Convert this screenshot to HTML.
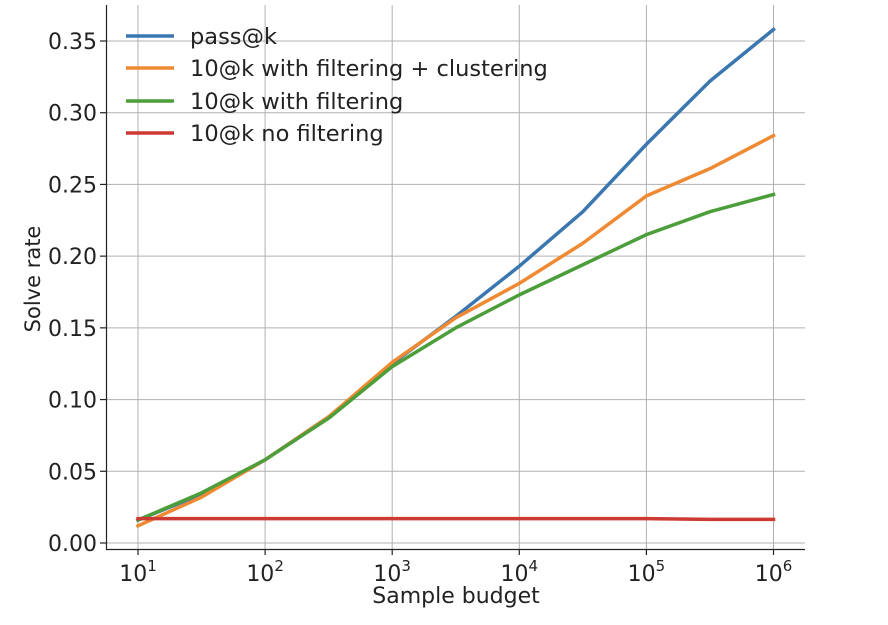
<!DOCTYPE html>
<html><head><meta charset="utf-8"><style>
body{margin:0;background:#fff;}
svg text{font-family:"DejaVu Sans","Liberation Sans",sans-serif;fill:#222;}
</style></head><body>
<svg id="s" width="888" height="620" viewBox="0 0 888 620" xmlns="http://www.w3.org/2000/svg">
<g id="grid" stroke="#b0b0b0" stroke-width="1"></g>
<g id="lines" fill="none" stroke-width="3.5" stroke-linejoin="round" stroke-linecap="square"></g>
<line x1="106.5" y1="5" x2="106.5" y2="550" stroke="#222" stroke-width="1.2"/>
<line x1="106" y1="549.5" x2="805" y2="549.5" stroke="#222" stroke-width="1.2"/>
<g id="ticks" stroke="#222" stroke-width="1.2"></g>
<g id="labels" font-size="22"></g>
<text x="456" y="603" font-size="22" text-anchor="middle">Sample budget</text>
<text transform="translate(40,279) rotate(-90)" font-size="21" text-anchor="middle">Solve rate</text>
<g font-size="22.5">
<line x1="126" y1="36" x2="174" y2="36" stroke="#3a76b0" stroke-width="3.5"/><text x="190" y="44">pass@k</text>
<line x1="126" y1="68" x2="174" y2="68" stroke="#f08a32" stroke-width="3.5"/><text x="190" y="76">10@k with filtering + clustering</text>
<line x1="126" y1="101" x2="174" y2="101" stroke="#4c9e3a" stroke-width="3.5"/><text x="190" y="109">10@k with filtering</text>
<line x1="126" y1="133" x2="174" y2="133" stroke="#cc3a33" stroke-width="3.5"/><text x="190" y="141">10@k no filtering</text>
</g>
</svg>
<script>
const NS="http://www.w3.org/2000/svg";
const X=e=>138+(e-1)*127.1, Y=v=>543-v*1434.3;
function el(p,t,a,txt){const n=document.createElementNS(NS,t);for(const k in a)n.setAttribute(k,a[k]);if(txt!=null)n.innerHTML=txt;document.getElementById(p).appendChild(n);}
for(let e=1;e<=6;e++){const x=X(e);el("grid","line",{x1:x,y1:5,x2:x,y2:549});el("ticks","line",{x1:x,y1:549,x2:x,y2:555});
el("labels","text",{x:x,y:581,"text-anchor":"middle"},`10<tspan dy="-10" font-size="15">${e}</tspan>`);}
for(let i=0;i<=7;i++){const v=i*0.05,y=Y(v);el("grid","line",{x1:107,y1:y,x2:805,y2:y});el("ticks","line",{x1:100,y1:y,x2:106,y2:y});
el("labels","text",{x:97,y:y+8,"text-anchor":"end"},v.toFixed(2));}
const data=[
["#3a76b0",[0.016,0.034,0.058,0.088,0.125,0.158,0.193,0.231,0.278,0.322,0.358]],
["#f08a32",[0.012,0.032,0.058,0.088,0.126,0.157,0.181,0.209,0.242,0.261,0.284]],
["#4c9e3a",[0.016,0.035,0.058,0.087,0.123,0.150,0.173,0.194,0.215,0.231,0.243]],
["#cc3a33",[0.017,0.017,0.017,0.017,0.017,0.017,0.017,0.017,0.017,0.0165,0.0165]]];
for(const [c,v] of data){el("lines","polyline",{stroke:c,points:v.map((y,i)=>X(1+i*0.5)+","+Y(y)).join(" ")});}
</script>
</body></html>
